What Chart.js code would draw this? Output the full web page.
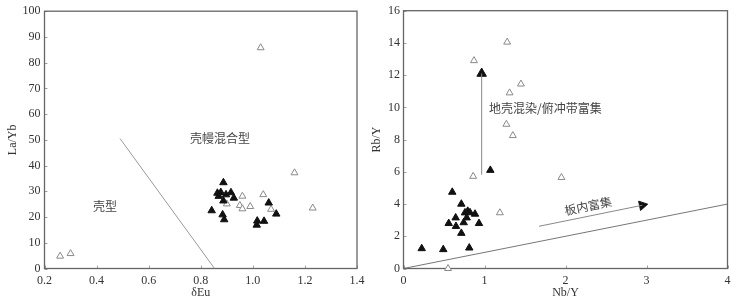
<!DOCTYPE html>
<html>
<head>
<meta charset="utf-8">
<script src="https://cdn.jsdelivr.net/npm/chart.js@4.4.1/dist/chart.umd.min.js"></script>
<style>
  html, body { margin: 0; padding: 0; background: #fff; }
  #wrap { position: relative; width: 739px; height: 302px; }
  canvas { position: absolute; top: 0; }
</style>
</head>
<body>
<div id="wrap">
  <canvas id="left" width="370" height="302" style="left:0"></canvas>
  <canvas id="right" width="369" height="302" style="left:370px"></canvas>
</div>
<script>
// ---- left panel: δEu vs La/Yb ----
const euTicks = [0.2, 0.4, 0.6, 0.8, 1.0, 1.2, 1.4];
const laybTicks = [0, 10, 20, 30, 40, 50, 60, 70, 80, 90, 100];

const openEu   = [0.26, 0.30, 1.03, 1.16, 0.96, 1.04, 0.90, 0.95, 0.96, 0.99, 1.07, 1.23];
const openLaYb = [4.8, 5.8, 85.8, 37.2, 28.1, 28.7, 25.1, 24.5, 23.2, 24.1, 23.0, 23.5];

const fillEu   = [0.887, 0.864, 0.877, 0.897, 0.916, 0.927, 0.869, 0.887, 0.842, 0.884, 0.890, 1.061, 1.090, 1.017, 1.043, 1.015];
const fillLaYb = [33.4, 29.3, 29.6, 28.7, 29.5, 27.4, 28.1, 26.3, 22.5, 20.9, 19.0, 25.5, 21.2, 18.5, 18.4, 16.9];

const mixLineEu   = [0.49, 0.853];
const mixLineLaYb = [50.5, 0];

// ---- right panel: Nb/Y vs Rb/Y ----
const nbyTicks = [0, 1, 2, 3, 4];
const rbyTicks = [0, 2, 4, 6, 8, 10, 12, 14, 16];

const openNbY = [1.28, 0.87, 1.45, 1.31, 1.27, 1.35, 0.86, 1.95, 1.19, 0.55];
const openRbY = [14.05, 12.9, 11.45, 10.9, 8.95, 8.25, 5.72, 5.65, 3.46, 0.0];

const fillNbY = [1.072, 0.602, 0.714, 0.644, 0.558, 0.648, 0.759, 0.793, 0.821, 0.883, 0.780, 0.743, 0.932, 0.714, 0.225, 0.491, 0.812];
const fillRbY = [6.10, 4.74, 4.00, 3.15, 2.80, 2.62, 3.46, 3.56, 3.47, 3.38, 3.15, 2.85, 2.80, 2.19, 1.24, 1.18, 1.28];

const baseLineNbY = [0, 4];
const baseLineRbY = [0, 4];
const crustArrowNbY = [0.965, 0.965];
const crustArrowRbY = [5.82, 12.1];
const plateArrowNbY = [1.673, 2.948];
const plateArrowRbY = [2.62, 3.924];

const pts = (xs, ys) => xs.map((v, i) => ({ x: v, y: ys[i] }));

const framePlugin = {
  id: 'frame',
  beforeDatasetsDraw(chart) {
    const { ctx, chartArea: a, scales: { x, y } } = chart;
    ctx.save();
    ctx.strokeStyle = '#a0a0a0';
    ctx.lineWidth = 1;
    ctx.beginPath();
    x.ticks.forEach(t => {
      const px = Math.round(x.getPixelForValue(t.value)) + 0.5;
      ctx.moveTo(px, a.bottom); ctx.lineTo(px, a.bottom - 3);
    });
    y.ticks.forEach(t => {
      const py = Math.round(y.getPixelForValue(t.value)) + 0.5;
      ctx.moveTo(a.left, py); ctx.lineTo(a.left + 3, py);
    });
    ctx.stroke();
    ctx.strokeStyle = '#666';
    ctx.lineWidth = 1.3;
    ctx.strokeRect(a.left, a.top, a.right - a.left, a.bottom - a.top);
    ctx.restore();
  },
  afterDatasetsDraw(chart, args, opts) {
    const { ctx, scales: { x, y } } = chart;
    ctx.save();
    ctx.fillStyle = '#444';
    ctx.font = '12px "Noto Sans CJK SC"';
    (opts.notes || []).forEach(n => {
      ctx.save();
      ctx.translate(x.getPixelForValue(n.x), y.getPixelForValue(n.y));
      ctx.rotate((n.angle || 0) * Math.PI / 180);
      ctx.textAlign = n.align || 'center';
      ctx.textBaseline = 'middle';
      ctx.fillText(n.text, 0, 0);
      ctx.restore();
    });
    ctx.restore();
  }
};

const tickFont = { family: '"Liberation Serif", "Times New Roman", serif', size: 12 };

function axis(min, max, tickVals, fmt, title, isX, size, titlePad, tickPad) {
  return {
    type: 'linear',
    min, max,
    afterBuildTicks: s => { s.ticks = tickVals.map(v => ({ value: v })); },
    afterFit: s => { if (isX) s.height = size; else s.width = size; },
    grid: { display: false, drawTicks: false },
    border: { display: false },
    ticks: { color: '#333', font: tickFont, padding: tickPad, maxRotation: 0, callback: v => fmt(v) },
    title: { display: true, text: title, color: '#333', font: tickFont, padding: titlePad }
  };
}

const openStyle = { pointStyle: 'triangle', pointRadius: 4, pointHoverRadius: 4, borderColor: '#8a8a8a', backgroundColor: '#fff', borderWidth: 1, showLine: false, clip: false };
const fillStyle = { pointStyle: 'triangle', pointRadius: 4.3, pointHoverRadius: 4.3, borderColor: '#111', backgroundColor: '#111', borderWidth: 1, showLine: false, clip: false };
const lineStyle = c => ({ showLine: true, pointRadius: 0, borderColor: c, borderWidth: 1, fill: false });

new Chart(document.getElementById('left'), {
  type: 'scatter',
  data: {
    datasets: [
      { data: pts(mixLineEu, mixLineLaYb), ...lineStyle('#9a9a9a') },
      { data: pts(fillEu, fillLaYb), ...fillStyle },
      { data: pts(openEu, openLaYb), ...openStyle }
    ]
  },
  options: {
    responsive: false,
    animation: false,
    layout: { padding: { top: 6.5, right: 13, left: 0, bottom: 0 } },
    plugins: {
      legend: { display: false },
      tooltip: { enabled: false },
      frame: { notes: [
        { text: '壳幔混合型', x: 0.874, y: 50.6 },
        { text: '壳型', x: 0.432, y: 24.3 }
      ] }
    },
    scales: {
      x: axis(0.2, 1.4, euTicks, v => v.toFixed(1), 'δEu', true, 33.5, { top: 0, bottom: 2 }, 5),
      y: axis(0, 100, laybTicks, v => String(v), 'La/Yb', false, 44.5, { top: 6, bottom: 0 }, 4)
    }
  },
  plugins: [framePlugin]
});

new Chart(document.getElementById('right'), {
  type: 'scatter',
  data: {
    datasets: [
      { data: pts(baseLineNbY, baseLineRbY), ...lineStyle('#777') },
      { data: pts(crustArrowNbY, crustArrowRbY), ...lineStyle('#888') },
      { data: pts(plateArrowNbY, plateArrowRbY), ...lineStyle('#888') },
      { data: [{ x: crustArrowNbY[1], y: crustArrowRbY[1] }], pointStyle: 'triangle', pointRadius: 5.5, rotation: 0, backgroundColor: '#111', borderColor: '#111', borderWidth: 1 },
      { data: [{ x: plateArrowNbY[1], y: plateArrowRbY[1] }], pointStyle: 'triangle', pointRadius: 5.5, rotation: 78.5, backgroundColor: '#111', borderColor: '#111', borderWidth: 1 },
      { data: pts(fillNbY, fillRbY), ...fillStyle },
      { data: pts(openNbY, openRbY), ...openStyle }
    ]
  },
  options: {
    responsive: false,
    animation: false,
    layout: { padding: { top: 6.5, right: 11.5, left: 0, bottom: 0 } },
    plugins: {
      legend: { display: false },
      tooltip: { enabled: false },
      frame: { notes: [
        { text: '地壳混染/俯冲带富集', x: 1.056, y: 9.92, align: 'left' },
        { text: '板内富集', x: 2.28, y: 3.88, angle: -11.5 }
      ] }
    },
    scales: {
      x: axis(0, 4, nbyTicks, v => String(v), 'Nb/Y', true, 33.5, { top: 0, bottom: 2 }, 5),
      y: axis(0, 16, rbyTicks, v => String(v), 'Rb/Y', false, 33.5, { top: 0, bottom: 0 }, 3.5)
    }
  },
  plugins: [framePlugin]
});
</script>
</body>
</html>
